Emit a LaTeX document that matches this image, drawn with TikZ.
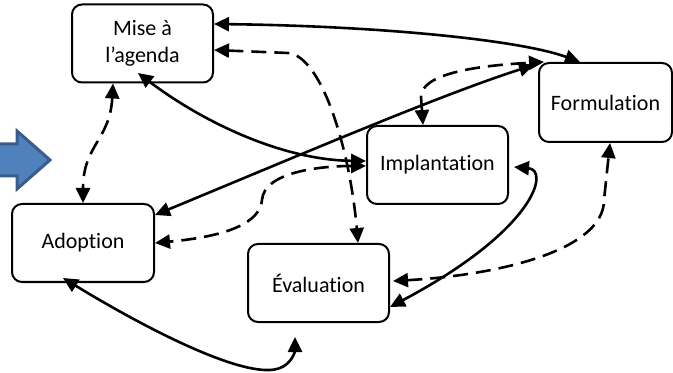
\documentclass[tikz,border=0pt]{standalone}
\usepackage{fontspec}
\setmainfont[Ligatures = NoCommon]{Carlito}
\usepackage{tikz}
\usetikzlibrary{arrows.meta}
\usetikzlibrary{positioning}
\definecolor{arrowblue}{RGB}{79,129,189}
\definecolor{arrowedge}{RGB}{56,93,138}
\tikzset{stage/.style = {draw, rounded corners = 5pt, line width = 1pt, minimum width = 70.5pt, minimum height = 39pt, align = center, font = \fontsize{11}{13.3}\selectfont}}
\tikzset{link/.style = {<->, line width = 1.3pt, >={Triangle[length = 7.5pt, width = 7pt]}}}
\tikzset{dlink/.style = {link, dash pattern = on 7.5pt off 4pt}}

\begin{document}
\begin{tikzpicture}[x = 0.5pt, y = -0.5pt]
      \useasboundingbox (0, 0) rectangle (673, 373);

      \draw [fill = arrowblue, draw = arrowedge, line width = 1.5pt] (-5, 144) -- (17, 144) -- (17, 131) -- (50, 160) -- (17, 189) -- (17, 176) -- (-5, 176) -- cycle;

      \node [stage] (agenda) at (142.5, 43.5) {Mise à\\l’agenda};
      \node [stage, minimum width = 66.5pt, minimum height = 39.5pt] (formul) at (605.5, 102.5) {Formulation};
      \node [stage] (implant) at (437.5, 165) {Implantation};
      \node [stage, minimum width = 71pt] (adopt) at (83, 243) {Adoption};
      \node [stage] (evalu) at (318.5, 283) {Évaluation};

      \draw [link] ([yshift = 9.75pt] agenda.east) .. controls (380, 26) and (520, 40) .. ([xshift = -12.75pt] formul.north);
      \draw [dlink] ([yshift = -3.25pt] agenda.east) -- (288, 53) .. controls (322, 56) and (350, 150) .. ([xshift = 19.75pt] evalu.north);
      \draw [link] ([shift = {(-2.25pt, 5.25pt)}] agenda.south) .. controls (200, 120) and (280, 160) .. ([yshift = 2pt] implant.west);
      \draw [dlink] ([xshift = -14.75pt] agenda.south) .. controls (110, 140) and (83, 145) .. (adopt.north);

      \draw [link] ([yshift = 14pt] adopt.east) .. controls (300, 155) and (440, 95) .. ([shift = {(-2pt, -1.5pt)}] formul.north west);
      \draw [dlink] ([yshift = -0.5pt] implant.west) .. controls (320, 166) and (264, 172) .. (262, 200) .. controls (260, 222) and (230, 236) .. (adopt.east);
      \draw [dlink] ([xshift = -7.25pt] implant.north) -- (421, 97) .. controls (421, 75) and (470, 66) .. ([xshift = 3pt] formul.north west);

      \draw [link] ([shift = {(2.5pt, -1pt)}] implant.east) .. controls (550, 170) and (535, 230) .. ([yshift = -12pt] evalu.east);
      \draw [dlink] ([xshift = 1.5pt, yshift = 1pt] evalu.east) .. controls (500, 275) and (604, 250) .. (604, 200) -- ([xshift = 2.25pt] formul.south);
      \draw [link] ([shift = {(-10pt, 2.5pt)}] adopt.south) .. controls (140, 325) and (230, 372) .. (270, 370) .. controls (292, 369) and (295, 350) .. ([shift = {(-11.75pt, -7pt)}] evalu.south);
\end{tikzpicture}
\end{document}
